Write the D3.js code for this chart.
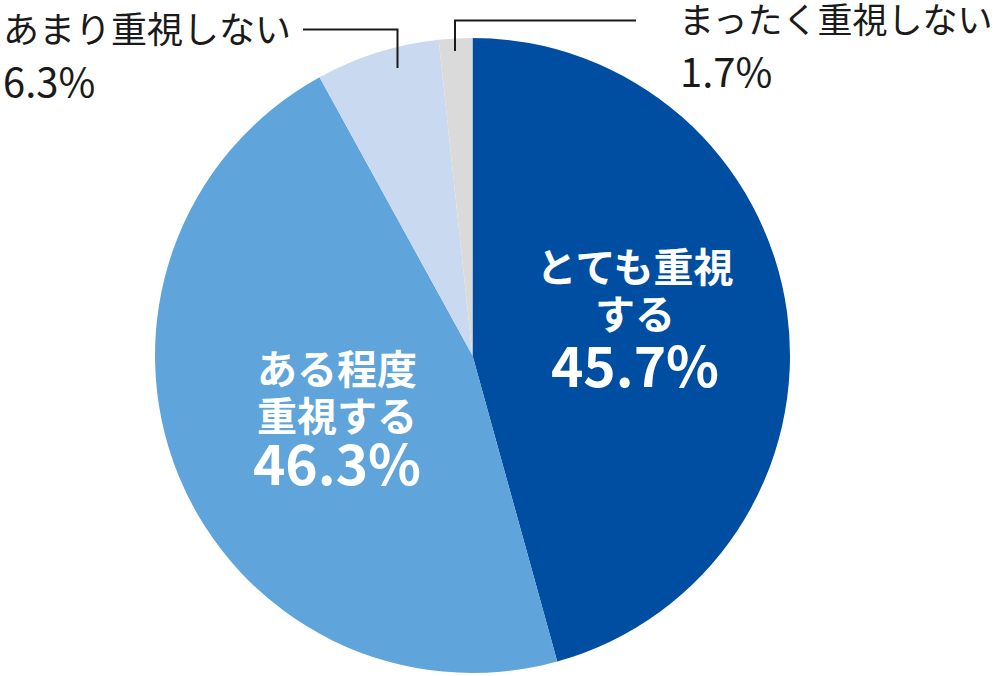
<!DOCTYPE html>
<html><head><meta charset="utf-8">
<script src="https://cdn.jsdelivr.net/npm/d3@7"></script>
<style>html,body{margin:0;padding:0;background:#fff;}svg{display:block;}</style>
</head><body>
<svg id="chart" width="1000" height="676"></svg>
<script>
const categories = ["とても重視する", "ある程度重視する", "あまり重視しない", "まったく重視しない"];
const values = [45.7, 46.3, 6.3, 1.7];
const colors = ["#004EA2", "#5FA4DA", "#C9DAF0", "#DADADA"];

const svg = d3.select("#chart");
const cx = 472.5, cy = 355.5, r = 317.5;
const font = "'Noto Sans CJK JP', 'Noto Sans', sans-serif";

const pie = d3.pie().sort(null).value(d => d)(values);
const arc = d3.arc().innerRadius(0).outerRadius(r);
const g = svg.append("g").attr("transform", `translate(${cx},${cy})`);
g.selectAll("path").data(pie).join("path")
  .attr("d", arc).attr("fill", (d, i) => colors[i]);

const fmt = v => v.toFixed(1) + "%";

// inner labels
function inner(lines, pct, x, ys, pctY) {
  const t = svg.append("g").attr("fill", "#fff").attr("font-family", font)
    .attr("font-weight", "bold").attr("text-anchor", "middle");
  lines.forEach((s, k) => t.append("text").attr("x", x).attr("y", ys[k])
    .attr("font-size", 40).text(s));
  t.append("text").attr("x", x).attr("y", pctY).attr("font-size", 55).text(pct);
}
inner(["とても重視", "する"], fmt(values[0]), 635, [282, 329], 387);
inner(["ある程度", "重視する"], fmt(values[1]), 337, [384, 431], 485);

// outer labels with leader lines
const ol = svg.append("g").attr("font-family", font).attr("fill", "#1a1a1a");
ol.append("text").attr("x", 3).attr("y", 43).attr("font-size", 36).text(categories[2]);
ol.append("text").attr("x", 3).attr("y", 97).attr("font-size", 40).text(fmt(values[2]));
ol.append("text").attr("x", 679).attr("y", 33).attr("font-size", 35).text(categories[3]);
ol.append("text").attr("x", 680).attr("y", 87).attr("font-size", 40).text(fmt(values[3]));

svg.append("path").attr("d", "M303,29.5H397.5V68").attr("fill", "none")
  .attr("stroke", "#1a1a1a").attr("stroke-width", 2);
svg.append("path").attr("d", "M455,51V20.5H636").attr("fill", "none")
  .attr("stroke", "#1a1a1a").attr("stroke-width", 2);
</script>
</body></html>
